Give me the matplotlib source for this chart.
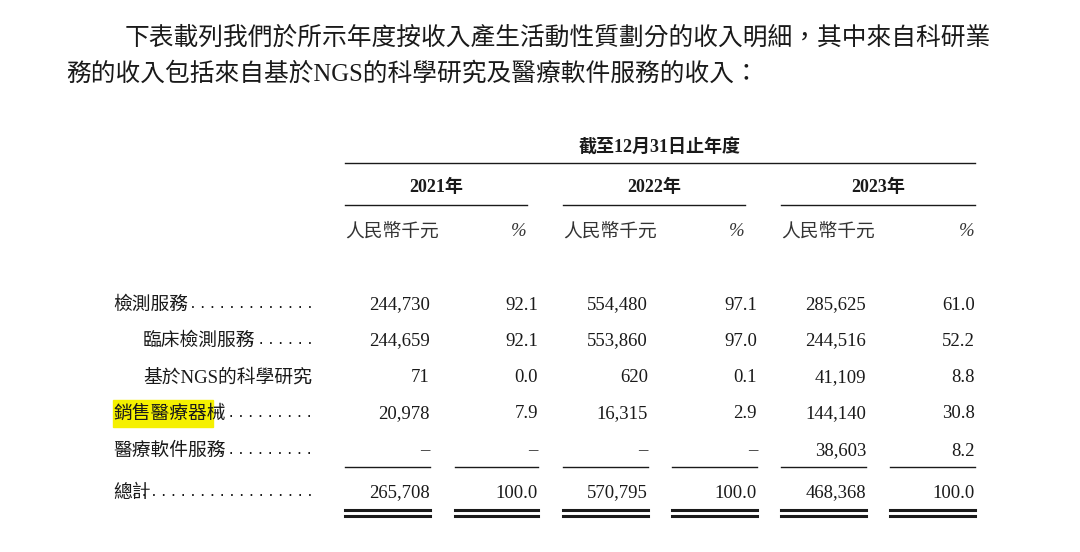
import matplotlib
matplotlib.use("Agg")
import matplotlib.pyplot as plt
from matplotlib.patches import Rectangle

intro = ["下表載列我們於所示年度按收入產生活動性質劃分的收入明細，其中來自科研業",
         "務的收入包括來自基於NGS的科學研究及醫療軟件服務的收入："]
period = "截至12月31日止年度"
years = ["2021年", "2022年", "2023年"]
unit_labels = ["人民幣千元", "%"]
rows = ["檢測服務", "臨床檢測服務", "基於NGS的科學研究", "銷售醫療器械", "醫療軟件服務", "總計"]
indent = [0, 1, 1, 0, 0, 0]
values = [
    ["244,730", "92.1", "554,480", "97.1", "285,625", "61.0"],
    ["244,659", "92.1", "553,860", "97.0", "244,516", "52.2"],
    ["71", "0.0", "620", "0.1", "41,109", "8.8"],
    ["20,978", "7.9", "16,315", "2.9", "144,140", "30.8"],
    ["–", "–", "–", "–", "38,603", "8.2"],
    ["265,708", "100.0", "570,795", "100.0", "468,368", "100.0"],
]

CJK = ["Liberation Serif", "Noto Sans CJK TC", "DejaVu Sans"]
fig = plt.figure(figsize=(10.8, 5.52), dpi=100)
ax = fig.add_axes([0, 0, 1, 1])
ax.set_xlim(0, 1080)
ax.set_ylim(552, 0)
ax.axis("off")
col = "#1a1a1a"

ax.text(125, 38, intro[0], fontsize=17.8, family=CJK, va="center", color=col)
ax.text(66, 74, intro[1], fontsize=17.8, family=CJK, va="center", color=col)

ax.text(660, 147, period, fontsize=13, family=CJK, weight="bold", ha="center", va="center", color=col)
ax.plot([345, 975], [163, 163], color=col, lw=1)
spans = [(345, 527), (563, 745), (781, 975)]
for (a, b), y in zip(spans, years):
    ax.text((a + b) / 2, 187, y, fontsize=13, family=CJK, weight="bold", ha="center", va="center", color=col)
    ax.plot([a, b], [205, 205], color=col, lw=1)
    ax.text(a, 232, unit_labels[0], fontsize=13.5, family=CJK, style="italic", va="center", color="#333333")
    ax.text(b, 232, unit_labels[1], fontsize=13.5, family=CJK, style="italic", ha="right", va="center", color="#333333")

row_y = [305, 341, 378, 414, 451, 493]
num_x = [430, 538, 648, 757, 866, 975]
ax.add_patch(Rectangle((113, 400), 100, 27, color="#f5f000", zorder=0))
fig.canvas.draw()
r = fig.canvas.get_renderer()
for i, (lab, y) in enumerate(zip(rows, row_y)):
    t = ax.text(113 + 30 * indent[i], y, lab, fontsize=13.5, family=CJK, va="center", color=col)
    bb = t.get_window_extent(r)
    x_end = bb.x1 + 6
    n = int((312 - x_end) / 8.3) + 1
    if n > 0:
        ax.text(312, y + 6, ". " * (n - 1) + ".", fontsize=11, family="DejaVu Sans",
                ha="right", va="bottom", color=col)
    for x, v in zip(num_x, values[i]):
        ax.text(x, y, v, fontsize=13.5, family=CJK, ha="right", va="center", color=col)

seg = [(345, 430), (455, 538), (563, 648), (672, 757), (781, 866), (890, 975)]
for a, b in seg:
    ax.plot([a, b], [467, 467], color=col, lw=1)
    ax.plot([a, b], [510, 510], color=col, lw=2.2)
    ax.plot([a, b], [516, 516], color=col, lw=2.2)

fig.savefig("out.png", dpi=100, facecolor="white")
